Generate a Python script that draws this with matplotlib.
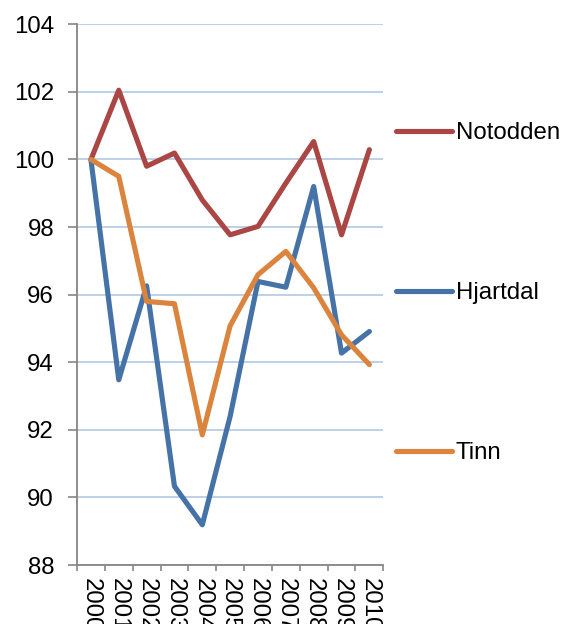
import matplotlib
matplotlib.use("Agg")
import matplotlib.pyplot as plt
import numpy as np

plt.rcParams['font.family'] = ['Liberation Sans', 'DejaVu Sans']

years = ['2000', '2001', '2002', '2003', '2004', '2005', '2006', '2007', '2008', '2009', '2010']
notodden = [100.0, 102.05, 99.8, 100.19, 98.8, 97.77, 98.02, 99.3, 100.53, 97.77, 100.29]
hjartdal = [100.0, 93.48, 96.26, 90.33, 89.19, 92.4, 96.39, 96.22, 99.2, 94.27, 94.91]
tinn = [100.0, 99.5, 95.8, 95.73, 91.85, 95.08, 96.59, 97.28, 96.2, 94.81, 93.93]

series = [('Notodden', notodden, '#AA4643'),
          ('Hjartdal', hjartdal, '#4572A7'),
          ('Tinn', tinn, '#DB843D')]

W, H = 561, 624
fs = 17.3
fig = plt.figure(figsize=(W / 100, H / 100), dpi=100)
ax = fig.add_axes([77 / W, (H - 565) / H, (383.3 - 77) / W, (565 - 24.3) / H])

x = np.arange(len(years))
for name, vals, col in series:
    ax.plot(x, vals, color=col, lw=3.7, label=name,
            solid_capstyle='round', solid_joinstyle='round')

ax.set_xlim(-0.5, len(years) - 0.5)
ax.set_ylim(88, 104)
ax.set_yticks(np.arange(88, 105, 2))
ax.yaxis.grid(True, color='#B9CDE5', lw=1.3)
ax.set_axisbelow(True)

ax.set_xticks(x)
ax.set_xticklabels(years, rotation=-90, fontsize=fs)
ax.set_xticks(np.arange(-0.5, len(years)), minor=True)
ax.tick_params(axis='x', which='major', length=0, pad=9)
ax.tick_params(axis='x', which='minor', length=4, width=1.2, color='#868686')
ax.tick_params(axis='y', length=6.5, width=1.2, color='#868686', pad=10, labelsize=fs)

for s in ['top', 'right']:
    ax.spines[s].set_visible(False)
for s in ['left', 'bottom']:
    ax.spines[s].set_color('#868686')
    ax.spines[s].set_linewidth(1.3)

leg = fig.legend(loc='upper left', bbox_to_anchor=(396 / W, 1 - 122 / H),
                 frameon=False, fontsize=fs, borderpad=0, borderaxespad=0,
                 labelspacing=5.75, handlelength=2.33, handletextpad=0.15)

fig.savefig('out.png', dpi=100)
